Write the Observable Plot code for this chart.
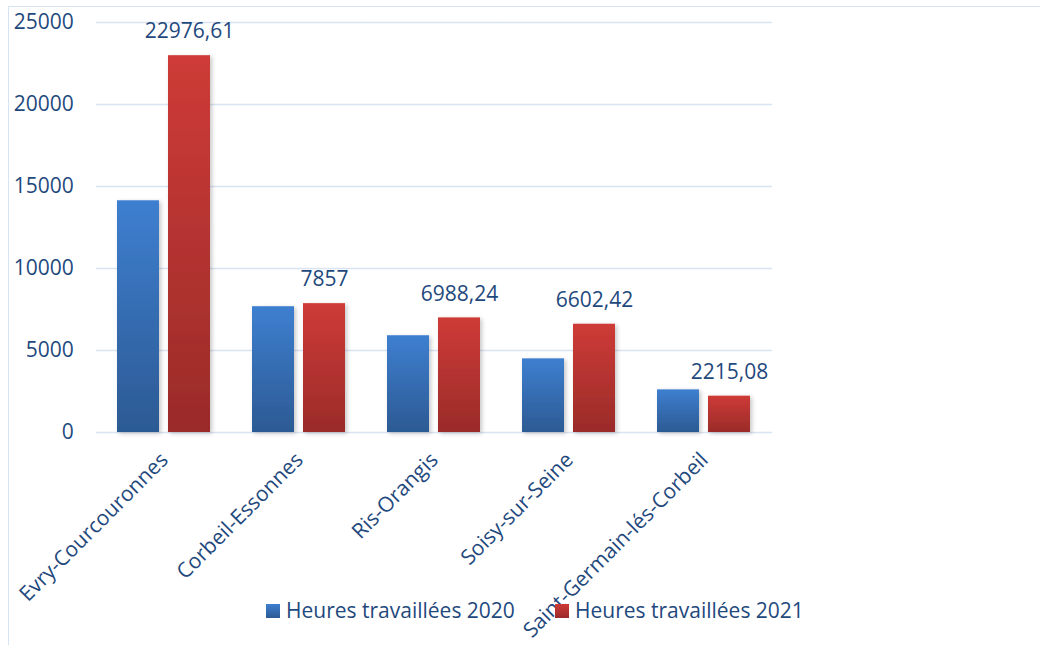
<!DOCTYPE html>
<html>
<head>
<meta charset="utf-8">
<script src="https://cdn.jsdelivr.net/npm/d3@7"></script>
<script src="https://cdn.jsdelivr.net/npm/@observablehq/plot@0.6"></script>
<style>
  html, body { margin: 0; padding: 0; background: #fff; }
  #wrap { position: relative; width: 1040px; height: 645px; overflow: hidden; font-family: "Open Sans", sans-serif; }
  #frame { position: absolute; left: 8px; top: 6px; right: -10px; bottom: -10px; border-left: 1.5px solid #D6E3F2; border-top: 1.5px solid #D6E3F2; pointer-events: none; }
  #chart { position: absolute; left: 0; top: 0; }
  .leg { position: absolute; top: 596px; display: flex; align-items: center; font-size: 21px; color: #1F497D; white-space: nowrap; }
  .sw { width: 14px; height: 14px; margin-right: 6px; margin-top: 2px; }
  g[aria-label="bar"] rect { filter: url(#shadow); }
</style>
</head>
<body>
<div id="wrap">
  <div id="frame"></div>
  <div id="chart"></div>
  <div class="leg" style="left:266px"><div class="sw" style="background:linear-gradient(#3E7FD0,#2C5A93)"></div><span id="l0"></span></div>
  <div class="leg" style="left:555px"><div class="sw" style="background:linear-gradient(#CE3B37,#9A2B29)"></div><span id="l1"></span></div>
</div>
<script>
const cities = ["Evry-Courcouronnes", "Corbeil-Essonnes", "Ris-Orangis", "Soisy-sur-Seine", "Saint-Germain-lés-Corbeil"];
const series = ["Heures travaillées 2020", "Heures travaillées 2021"];
const hours2020 = [14130, 7670, 5900, 4490, 2600];
const hours2021 = [22976.61, 7857, 6988.24, 6602.42, 2215.08];
const labels2021 = ["22976,61", "7857", "6988,24", "6602,42", "2215,08"];
const yTicks = [0, 5000, 10000, 15000, 20000, 25000];

const data = [];
cities.forEach((c, i) => {
  data.push({city: c, series: series[0], value: hours2020[i]});
  data.push({city: c, series: series[1], value: hours2021[i], label: labels2021[i]});
});
const labelled = data.filter(d => d.label);

const textColor = "#1F497D";
const fxPadInner = 0.307, fxPadOuter = 0.1535;
const plotW = 1040 - 95 - 267;
const step = plotW / (cities.length - fxPadInner + 2 * fxPadOuter);
const halfGap = step * fxPadInner / 2 + 0.2;
const outerPad = step * fxPadOuter;

const chart = Plot.plot({
  width: 1040,
  height: 645,
  marginLeft: 95,
  marginRight: 267,
  marginTop: 22,
  marginBottom: 213,
  style: {fontFamily: "Open Sans, sans-serif", fontSize: "21px", color: textColor, background: "transparent", overflow: "visible"},
  fx: {domain: cities, paddingInner: fxPadInner, paddingOuter: fxPadOuter, axis: null, label: null},
  x: {domain: series, paddingInner: 0.175, paddingOuter: 0, axis: null},
  y: {domain: [0, 25000], axis: null},
  color: {domain: series, range: ["url(#gBlue)", "url(#gRed)"]},
  marks: [
    Plot.ruleY(yTicks, {stroke: "#D9E4F2", strokeWidth: 1.5, insetLeft: -halfGap, insetRight: -halfGap}),
    Plot.axisY(yTicks, {tickSize: 0, tickPadding: 3, dx: -(outerPad + 20), tickFormat: d3.format("d"), fontSize: 21, label: null}),
    Plot.axisFx({anchor: "bottom", tickRotate: -45, tickSize: 0, tickPadding: 24, fontSize: 21, label: null}),
    Plot.barY(data, {fx: "city", x: "series", y: "value", fill: "series"}),
    Plot.text(labelled, {fx: "city", x: "series", y: "value", text: "label", dy: -24, fontSize: 21, fill: textColor})
  ]
});

const ns = "http://www.w3.org/2000/svg";
const defs = document.createElementNS(ns, "defs");
defs.innerHTML = `
  <linearGradient id="gBlue" x1="0" y1="0" x2="0" y2="1">
    <stop offset="0" stop-color="#3E7FD0"/><stop offset="1" stop-color="#2C5A93"/>
  </linearGradient>
  <linearGradient id="gRed" x1="0" y1="0" x2="0" y2="1">
    <stop offset="0" stop-color="#CE3B37"/><stop offset="1" stop-color="#9A2B29"/>
  </linearGradient>
  <filter id="shadow" x="-20%" y="-5%" width="150%" height="115%">
    <feDropShadow dx="2" dy="1.5" stdDeviation="2" flood-color="#000" flood-opacity="0.22"/>
  </filter>`;
chart.insertBefore(defs, chart.firstChild);
document.getElementById("chart").appendChild(chart);
document.getElementById("l0").textContent = series[0];
document.getElementById("l1").textContent = series[1];
</script>
</body>
</html>
